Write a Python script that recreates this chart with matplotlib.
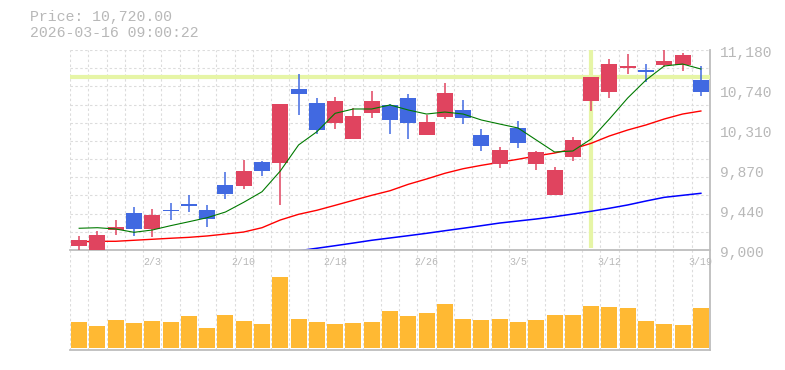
'''Candlestick chart with moving averages and volume.'''

import numpy as np
import matplotlib
matplotlib.use('Agg')
import matplotlib.pyplot as plt
from matplotlib import transforms

dates = ['1/28', '1/29', '1/30', '2/2', '2/3', '2/4', '2/5', '2/6', '2/9',
         '2/10', '2/12', '2/13', '2/16', '2/17', '2/18', '2/19', '2/20',
         '2/24', '2/25', '2/26', '2/27', '3/2', '3/3', '3/4', '3/5', '3/6',
         '3/9', '3/10', '3/11', '3/12', '3/13', '3/16', '3/17', '3/18', '3/19']
date_labels = ['2/3', '2/10', '2/18', '2/26', '3/5', '3/12', '3/19']

opens = [9047, 8990, 9218, 9403, 9232, 9425, 9490, 9436, 9709, 9701, 9959,
         9952, 10758, 10602, 10384, 10210, 10493, 10580, 10657, 10253, 10450,
         10526, 10253, 9937, 10330, 9937, 9600, 10014, 10624, 10722, 10984,
         10962, 11017, 11017, 10853]
highs = [9153, 9207, 9327, 9472, 9447, 9512, 9600, 9490, 9850, 9984, 9965,
         10595, 10918, 10657, 10668, 10548, 10733, 10591, 10700, 10471, 10820,
         10635, 10319, 10123, 10406, 10079, 9905, 10232, 10890, 11082, 11136,
         11027, 11180, 11147, 11006]
lows = [8992, 8980, 9163, 9156, 9145, 9327, 9414, 9251, 9556, 9665, 9807,
        9494, 10471, 10264, 10319, 10205, 10439, 10264, 10210, 10250, 10428,
        10373, 10079, 9894, 10112, 9872, 9598, 9970, 10515, 10657, 10918,
        10831, 10995, 10951, 10679]
closes = [9109, 9163, 9250, 9232, 9385, 9420, 9485, 9341, 9610, 9861, 9861,
          10591, 10700, 10308, 10624, 10461, 10624, 10417, 10384, 10395, 10711,
          10439, 10134, 10090, 10166, 10068, 9872, 10199, 10886, 11027, 11006,
          10940, 11060, 11126, 10720]

ma5 = [9237, 9243, 9229, 9193, 9218, 9265, 9308, 9352, 9414, 9520, 9635,
       9861, 10145, 10289, 10490, 10537, 10537, 10581, 10526, 10482, 10504,
       10482, 10417, 10373, 10330, 10199, 10068, 10079, 10210, 10428, 10657,
       10853, 11006, 11027, 10973]
ma25 = [9090, 9095, 9095, 9106, 9117, 9128, 9138, 9153, 9174, 9196, 9243,
        9327, 9389, 9433, 9487, 9542, 9596, 9646, 9716, 9774, 9836, 9886,
        9923, 9956, 9989, 10025, 10057, 10101, 10163, 10243, 10308, 10363,
        10428, 10482, 10515]
ma75 = [None] * 12 + [8992, 9019, 9047, 9076, 9106, 9131, 9156, 9182, 9210,
                      9237, 9265, 9294, 9316, 9338, 9363, 9392, 9422, 9455,
                      9491, 9534, 9574, 9596, 9618]

volumes = [2570, 2170, 2770, 2470, 2670, 2570, 3170, 1970, 3270, 2670, 2370,
           7070, 2870, 2570, 2370, 2470, 2570, 3670, 3170, 3470, 4370, 2870,
           2770, 2870, 2570, 2770, 3270, 3270, 4170, 4070, 3970, 2670, 2370,
           2270, 3970]

price_text = 'Price: 10,720.00'
time_text = '2026-03-16 09:00:22'
cross_idx = 28

W, H = 785, 370
UP = '#e0445f'
DOWN = '#4169e1'
GRID = '#dcdcdc'
AXIS = '#bdbdbd'
TXT = '#b8b8b8'
MONO = ['Liberation Mono', 'DejaVu Sans Mono']

n = len(dates)
x = np.arange(n)
o = np.array(opens, float)
c = np.array(closes, float)
up = c >= o

fig = plt.figure(figsize=(W / 100, H / 100), dpi=100)

def box(left, top, width, height):
    return [left / W, 1 - (top + height) / H, width / W, height / H]

# background frame: vertical grid + right border through both panels
frame = fig.add_axes(box(70, 50, 640, 300))
frame.set_xlim(-0.5, n - 0.5)
frame.set_ylim(0, 1)
for xv in np.arange(-0.5, n - 0.5):
    frame.axvline(xv, color=GRID, lw=0.8, ls=(0, (2.2, 2.2)), zorder=0)
for s in ['top', 'left', 'bottom']:
    frame.spines[s].set_visible(False)
frame.spines['right'].set_color(AXIS)
frame.spines['right'].set_linewidth(1.3)
frame.set_xticks([])
frame.set_yticks([])
frame.patch.set_alpha(0)

ymin, ymax = 9000, 11180
ax = fig.add_axes(box(70, 50, 640, 200))
ax.patch.set_alpha(0)
ax.set_xlim(-0.5, n - 0.5)
ax.set_ylim(ymin, ymax)
for yv in np.linspace(ymin, ymax, 12)[1:]:
    ax.axhline(yv, color=GRID, lw=0.8, ls=(0, (2.2, 2.2)), zorder=0)

# crosshair
ax.axhline(closes[cross_idx], color='#e6f5a6', lw=3, zorder=1)
ax.plot([cross_idx, cross_idx], [ymin + 20, ymax], color='#e6f5a6', lw=3,
        zorder=1, solid_capstyle='butt')

ax.plot(x, ma75, color='#0000ff', lw=1.1, zorder=2)
ax.plot(x, ma25, color='#ff0000', lw=1.0, zorder=2)

colors = [UP if u else DOWN for u in up]
ax.vlines(x, lows, highs, colors=colors, lw=1.1, zorder=3)
bottoms = np.minimum(o, c)
heights = np.maximum(np.abs(c - o), 16)
ax.bar(x, heights, bottom=bottoms, width=0.875, color=colors, zorder=4)

ax.plot(x, ma5, color='#007a00', lw=0.8, zorder=5)

for s in ['top', 'left', 'right']:
    ax.spines[s].set_visible(False)
ax.spines['bottom'].set_color(AXIS)
ax.spines['bottom'].set_linewidth(1.3)
ax.set_xticks([])
ax.set_yticks([])

yticks = np.linspace(ymin, ymax, 6)
lab_tr = transforms.blended_transform_factory(ax.transAxes, ax.transData) + \
    transforms.ScaledTranslation(0, -2.5 / 100, fig.dpi_scale_trans)
for yv in yticks:
    ax.text(1 + 10 / 640, yv, '{:,}'.format(int(round(yv, -1))),
            transform=lab_tr, ha='left', va='center', fontsize=10.5,
            color=TXT, family=MONO)

# volume panel
vax = fig.add_axes(box(70, 270, 640, 80))
vax.patch.set_alpha(0)
vax.set_xlim(-0.5, n - 0.5)
vax.set_ylim(-230, 7770)
vax.bar(x, volumes, width=0.875, color='#ffb933', zorder=2)
for s in ['top', 'left', 'right']:
    vax.spines[s].set_visible(False)
vax.spines['bottom'].set_color(AXIS)
vax.spines['bottom'].set_linewidth(1.3)
vax.spines['bottom'].set_position(('data', -230))
vax.set_xticks([])
vax.set_yticks([])

# date labels between the panels
for lab in date_labels:
    i = dates.index(lab)
    fig.text((70 + (i + 0.5) * 640 / n) / W, 1 - 262 / H, lab, ha='center',
             va='center', fontsize=7.2, color=TXT, family=MONO)

fig.text(30 / W, 1 - 17.5 / H, price_text, ha='left', va='center',
         fontsize=10.7, color=TXT, family=MONO)
fig.text(30 / W, 1 - 33 / H, time_text, ha='left', va='center',
         fontsize=10.7, color=TXT, family=MONO)

fig.savefig('out.png', dpi=100)
